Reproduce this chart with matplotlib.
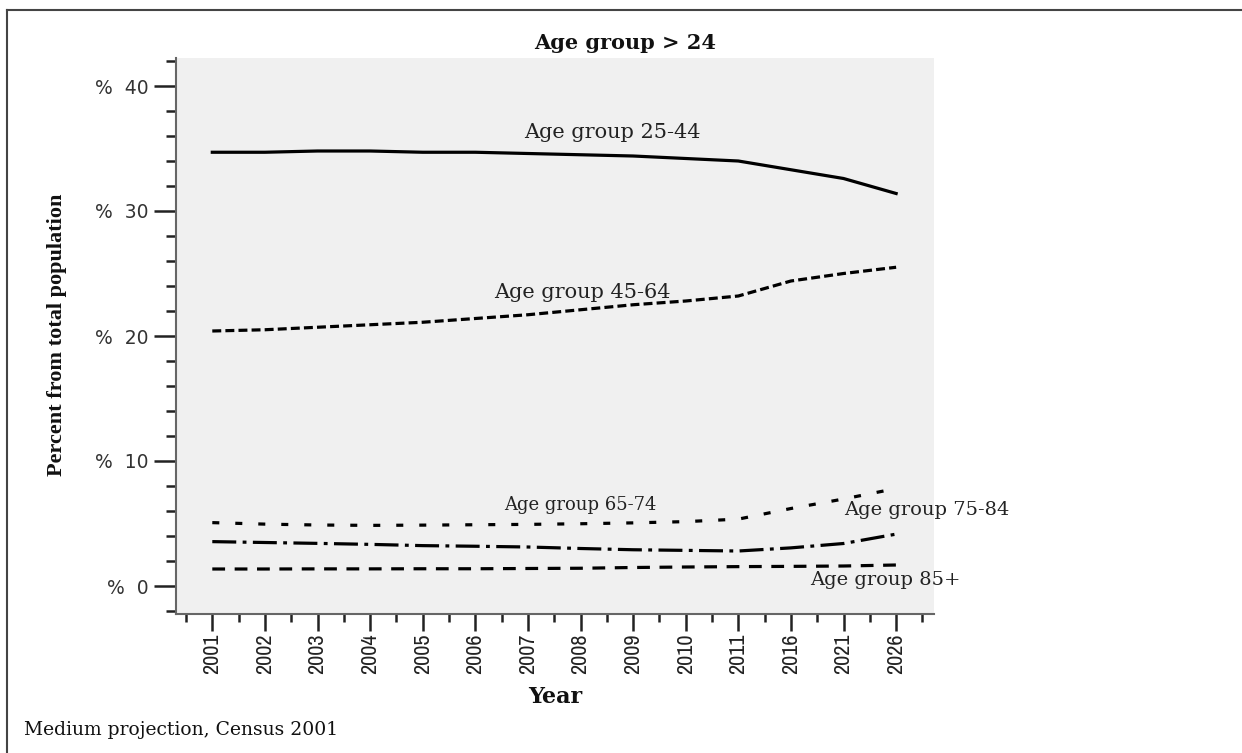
import matplotlib
matplotlib.use("Agg")
import matplotlib.pyplot as plt
from matplotlib import font_manager
from matplotlib.font_manager import FontProperties
from matplotlib.lines import Line2D

# categories on the x axis (equally spaced, not a real time scale)
years = ["2001", "2002", "2003", "2004", "2005", "2006", "2007", "2008",
         "2009", "2010", "2011", "2016", "2021", "2026"]

# percent of total population
age_25_44 = [34.7, 34.7, 34.8, 34.8, 34.7, 34.7, 34.6, 34.5, 34.4, 34.2, 34.0, 33.3, 32.6, 31.4]
age_45_64 = [20.4, 20.5, 20.7, 20.9, 21.1, 21.4, 21.7, 22.1, 22.5, 22.8, 23.2, 24.4, 25.0, 25.5]
age_65_74 = [5.07, 4.95, 4.88, 4.85, 4.87, 4.90, 4.93, 4.98, 5.05, 5.15, 5.35, 6.2, 6.96, 7.8]
age_75_84 = [3.55, 3.48, 3.41, 3.33, 3.23, 3.18, 3.12, 3.00, 2.90, 2.85, 2.80, 3.05, 3.4, 4.15]
age_85_plus = [1.36, 1.36, 1.37, 1.37, 1.38, 1.38, 1.40, 1.42, 1.48, 1.52, 1.55, 1.57, 1.60, 1.68]

y_ticks = [0, 10, 20, 30, 40]
y_tick_labels = ["%  0", "%  10", "%  20", "%  30", "%  40"]


def find_narrow_font():
    """Pick a condensed sans face if one is installed, else None."""
    found = []
    for f in font_manager.fontManager.ttflist:
        name = f.name.lower()
        cond = ("narrow" in name or "condensed" in name
                or f.stretch in ("condensed", "semi-condensed", "extra-condensed",
                                 "ultra-condensed"))
        if not cond or f.style != "normal":
            continue
        if f.weight not in (400, "normal", "regular"):
            continue
        rank = 0 if "narrow" in name else (1 if "sans" in name else 2)
        found.append((rank, f.fname))
    if not found:
        return None
    found.sort()
    return found[0][1]


narrow_path = find_narrow_font()
if narrow_path:
    year_font = FontProperties(fname=narrow_path, size=16)
else:
    year_font = FontProperties(family="DejaVu Sans", size=11)

fig = plt.figure(figsize=(12.42, 7.53), dpi=100)
ax = fig.add_axes([176 / 1242, 139 / 753, (934 - 176) / 1242, (614 - 58) / 753])
ax.set_facecolor("#f0f0f0")

x = list(range(len(years)))
lw = 2.3
ax.plot(x, age_25_44, color="black", lw=lw, ls="-")
ax.plot(x, age_45_64, color="black", lw=lw, ls=(0, (2.8, 1.3)))
ax.plot(x, age_65_74, color="black", lw=lw, ls=(0, (2.2, 5.0)))
ax.plot(x, age_75_84, color="black", lw=lw, ls=(0, (7.5, 2.0, 1.2, 2.0)))
ax.plot(x, age_85_plus, color="black", lw=lw, ls=(0, (4.0, 3.0)))

ax.set_xlim(-0.69, 13.72)
ax.set_ylim(-2.24, 42.24)

# series labels
serif = "DejaVu Serif"
ax.text(7.6, 36.3, "Age group 25-44", family=serif, fontsize=15, ha="center", va="center", color="#222222")
ax.text(7.03, 23.5, "Age group 45-64", family=serif, fontsize=15, ha="center", va="center", color="#222222")
ax.text(7.0, 6.5, "Age group 65-74", family=serif, fontsize=13, ha="center", va="center", color="#222222")
ax.text(12.02, 6.1, "Age group 75-84", family=serif, fontsize=14, ha="left", va="center", color="#222222")
ax.text(11.36, 0.48, "Age group 85+", family=serif, fontsize=14, ha="left", va="center", color="#222222")

# axes styling
for side in ["top", "right"]:
    ax.spines[side].set_visible(False)
for side in ["left", "bottom"]:
    ax.spines[side].set_color("#666666")
    ax.spines[side].set_linewidth(1.5)

ax.set_yticks(y_ticks)
ax.set_yticklabels(y_tick_labels, family="DejaVu Sans", fontsize=13.5, color="#333333")
ax.set_yticks([v for v in range(-2, 43, 2) if v % 10 != 0], minor=True)
ax.set_xticks(x)
ax.set_xticklabels(years, rotation=90, fontproperties=year_font, color="#222222")
ax.set_xticks([v + 0.5 for v in range(-1, len(years))], minor=True)
ax.tick_params(axis="y", which="major", length=16, width=1.8, color="#222222", pad=4)
ax.tick_params(axis="y", which="minor", length=7, width=1.8, color="#222222")
ax.tick_params(axis="x", which="major", length=12, width=1.8, color="#222222", pad=2)
ax.tick_params(axis="x", which="minor", length=6, width=1.8, color="#222222")

# titles and notes
fig.text(625 / 1242, 1 - 43 / 753, "Age group > 24", family=serif, fontweight="bold",
         fontsize=15, ha="center", va="center", color="#111111")
fig.text(57 / 1242, 1 - 335 / 753, "Percent from total population", family="Liberation Serif",
         fontweight="bold", fontsize=16, rotation=90, ha="center", va="center", color="#111111")
fig.text(555 / 1242, 1 - 697 / 753, "Year", family=serif, fontweight="bold",
         fontsize=16, ha="center", va="center", color="#111111")
fig.text(24 / 1242, 1 - 730 / 753, "Medium projection, Census 2001", family=serif,
         fontsize=13.5, ha="left", va="center", color="#111111")

# frame line along the top and left edge of the picture
fig.add_artist(Line2D([7 / 1242, 1.0], [1 - 10 / 753, 1 - 10 / 753], color="#444444", lw=1.5,
                      transform=fig.transFigure))
fig.add_artist(Line2D([7 / 1242, 7 / 1242], [0.0, 1 - 10 / 753], color="#444444", lw=1.5,
                      transform=fig.transFigure))

fig.savefig("out.png", dpi=100, facecolor="white")
